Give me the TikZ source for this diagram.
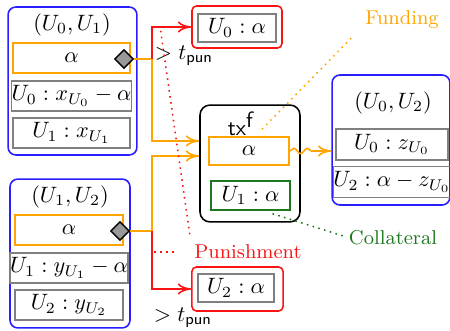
\documentclass[tikz,border=0pt]{standalone}
\usetikzlibrary{shapes.geometric,decorations.pathmorphing,arrows.meta,calc}
\definecolor{Fund}{RGB}{255,165,0}
\definecolor{Chan}{RGB}{40,30,255}
\definecolor{Pun}{RGB}{250,20,20}
\definecolor{Coll}{RGB}{30,120,30}

\begin{document}
\begin{tikzpicture}[x=0.45pt,y=-0.45pt,>={To[length=6pt,width=5pt]},
  chan/.style={draw=Chan,line width=0.7pt,rounded corners=3.5pt,inner sep=0pt},
  punbox/.style={draw=Pun,line width=0.7pt,rounded corners=2pt,inner sep=0pt},
  txbox/.style={draw=black,line width=0.7pt,rounded corners=4.5pt,inner sep=0pt},
  bal/.style={draw=gray,line width=0.7pt,inner sep=0pt,minimum height=13.5pt},
  sig/.style={diamond,draw=black,fill=black!40,line width=0.6pt,minimum size=8.5pt,inner sep=0pt},
  fundln/.style={draw=Fund,line width=0.7pt},
  punln/.style={draw=Pun,line width=0.7pt},
  lbl/.style={inner sep=1pt}]
\path[use as bounding box] (0,0) rectangle (450,331);
% channel U0,U1
\node[chan,minimum width=58pt,minimum height=66.6pt] (chA) at (72.5,81) {};
\node (tA) at (72,25) {$(U_0,U_1)$};
\node[bal,draw=Fund,minimum width=52.6pt] (aA) at (71.5,58) {$\alpha$};
\node[bal,minimum width=52.6pt] (xA0) at (71.5,96) {$U_0 : x_{U_0} - \alpha$};
\node[bal,minimum width=52.6pt] (xA1) at (71.5,133) {$U_1 : x_{U_1}$};
\node[sig] (dA) at (124,59) {};
% channel U1,U2
\node[chan,minimum width=54pt,minimum height=67pt] (chB) at (70,253.5) {};
\node (tB) at (70,197) {$(U_1,U_2)$};
\node[bal,draw=Fund,minimum width=48.6pt] (aB) at (69,230) {$\alpha$};
\node[bal,minimum width=48.6pt] (yB1) at (69,268) {$U_1 : y_{U_1} - \alpha$};
\node[bal,minimum width=48.6pt] (yB2) at (69,305) {$U_2 : y_{U_2}$};
\node[sig] (dB) at (120,231) {};
% punishment outputs
\node[punbox,minimum width=40.5pt,minimum height=18.9pt] (pA) at (237,27) {};
\node[bal,minimum width=35pt,minimum height=12.6pt] (pA0) at (237,28) {$U_0 : \alpha$};
\node[punbox,minimum width=41pt,minimum height=19.8pt] (pB) at (237.5,289) {};
\node[bal,minimum width=34.2pt,minimum height=12.6pt] (pB2) at (236,288) {$U_2 : \alpha$};
\node[lbl] (tpA) at (184,56) {$> t_{\mathsf{pun}}$};
\node[lbl] (tpB) at (183,318) {$> t_{\mathsf{pun}}$};
% funding tx
\node[txbox,minimum width=45pt,minimum height=52.6pt] (tx) at (250,163.5) {};
\node[lbl] (txl) at (241,124) {$\textsf{tx}^{\textsf{f}}$};
\node[bal,draw=Fund,minimum width=36pt,minimum height=12.6pt] (txa) at (249,151) {$\alpha$};
\node[bal,draw=Coll,minimum width=35.5pt,minimum height=13pt] (txc) at (250.5,195.5) {$U_1 : \alpha$};
% channel U0,U2
\node[chan,minimum width=53pt,minimum height=58.5pt] (chC) at (391,140) {};
\node (tC) at (393,103) {$(U_0,U_2)$};
\node[bal,minimum width=50.4pt,minimum height=14pt] (zC0) at (392,144.5) {$U_0 : z_{U_0}$};
\node[bal,minimum width=50.4pt,minimum height=14pt] (zC2) at (392,182) {$U_2 : \alpha - z_{U_0}$};
% labels
\node[lbl,text=Fund,font=\small] (fl) at (402,20) {Funding};
\node[lbl,text=Coll,font=\small] (cl) at (393,238) {Collateral};
\node[lbl,text=Pun,font=\small] (pl) at (248,252) {Punishment};
% connectors
\coordinate (jA) at ($(dA.east)+(18,0)$);
\coordinate (jB) at ($(dB.east)+(22,0)$);
\draw[fundln,->] (dA.east) -- (jA) |- ($(tx.west |- txa)+(0,-10)$);
\draw[punln,->] (jA) |- (pA.west);
\draw[fundln,->] (dB.east) -- (jB) |- ($(tx.west |- txa)+(0,5)$);
\draw[punln,->] (jB) |- (pB.west);
\draw[fundln,->,decorate,decoration={snake,amplitude=1.2pt,segment length=6pt,post length=6pt}] (txa.east) -- (txa.east -| chC.west);
% annotations
\draw[fundln,dotted] ($(txa.north)+(13,-7)$) -- ($(fl.south west)+(-9,4)$);
\draw[draw=Coll,line width=0.7pt,dotted] ($(txc.south)+(22,3)$) -- ($(cl.west)+(-3,-2)$);
\draw[punln,dotted] ($(jB |- pl.west)+(2,0)$) -- ($(pl.west)+(-15,0)$);
\draw[punln,dotted] ($(pl.north west)+(-2,-8)$) -- ($(jA |- pA.west)+(8,0)$);
\end{tikzpicture}
\end{document}
